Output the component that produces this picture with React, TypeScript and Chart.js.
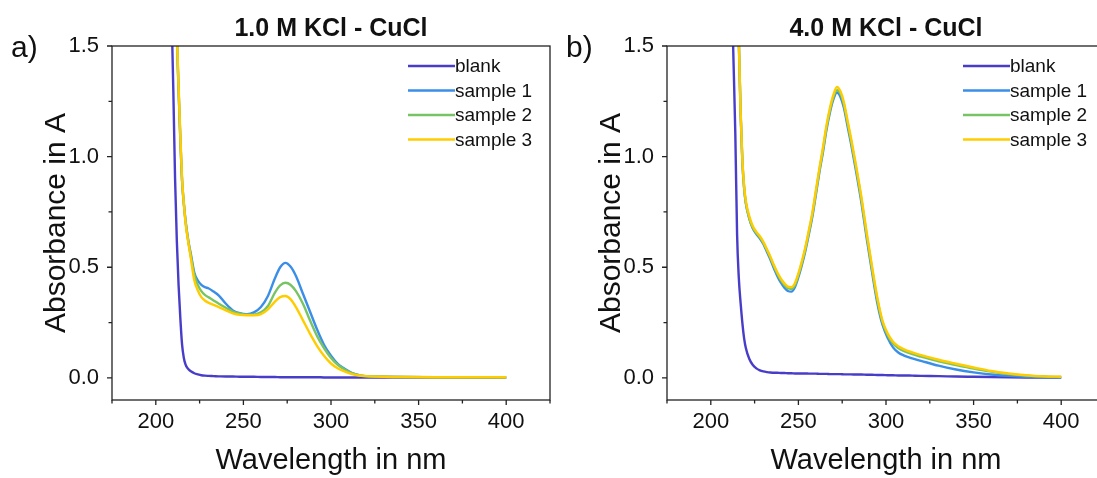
import React, { useEffect, useRef } from "react";
import { Chart, registerables } from "chart.js";

Chart.register(...registerables);

const FONT = "'Liberation Sans', Arial, Helvetica, sans-serif";

// ---------- shared labels / styles ----------
const seriesLabels = ["blank", "sample 1", "sample 2", "sample 3"];
const seriesColors = ["#483dc8", "#3a8ee8", "#78c464", "#ffcc00"];
const xMajorTicks = [200, 250, 300, 350, 400];
const xMinorTicks = [175, 225, 275, 325, 375, 425];
const yMajorTicks = [0, 0.5, 1.0, 1.5];
const yMinorTicks = [0.25, 0.75, 1.25];
const xAxisTitle = "Wavelength in nm";
const yAxisTitle = "Absorbance in A";

// ---------- panel a) 1.0 M KCl ----------
const titleA = "1.0 M KCl - CuCl";
const panelA = "a)";
const wavelengthA = [205, 208, 210, 211, 212, 213, 214, 215, 216, 217, 218, 219, 220, 222, 224, 226, 228, 230, 233, 236, 240, 244, 248, 252, 256, 260, 264, 268, 271, 274, 277, 280, 284, 288, 292, 296, 300, 304, 308, 312, 316, 320, 330, 340, 360, 380, 400];
const blankA = [3.0, 2.0, 1.3, 0.9, 0.62, 0.42, 0.27, 0.15, 0.09, 0.06, 0.045, 0.036, 0.03, 0.021, 0.016, 0.012, 0.01, 0.009, 0.008, 0.007, 0.006, 0.006, 0.005, 0.005, 0.005, 0.004, 0.004, 0.004, 0.003, 0.003, 0.003, 0.003, 0.003, 0.003, 0.003, 0.002, 0.002, 0.002, 0.002, 0.002, 0.002, 0.002, 0.001, 0.001, 0.001, 0.001, 0.001];
const sample1A = [3.6, 2.6, 2.05, 1.78, 1.55, 1.3, 1.08, 0.89, 0.79, 0.71, 0.65, 0.6, 0.56, 0.475, 0.44, 0.42, 0.41, 0.405, 0.39, 0.372, 0.335, 0.305, 0.292, 0.288, 0.296, 0.32, 0.37, 0.45, 0.5, 0.52, 0.502, 0.46, 0.38, 0.3, 0.22, 0.15, 0.1, 0.062, 0.04, 0.022, 0.012, 0.007, 0.005, 0.004, 0.003, 0.002, 0.002];
const sample2A = [3.6, 2.6, 2.05, 1.78, 1.55, 1.3, 1.08, 0.89, 0.785, 0.705, 0.645, 0.595, 0.55, 0.465, 0.42, 0.392, 0.375, 0.365, 0.35, 0.335, 0.317, 0.3, 0.29, 0.285, 0.286, 0.296, 0.325, 0.385, 0.418, 0.43, 0.42, 0.392, 0.335, 0.26, 0.19, 0.135, 0.09, 0.058, 0.037, 0.021, 0.012, 0.008, 0.005, 0.004, 0.003, 0.003, 0.002];
const sample3A = [3.6, 2.6, 2.05, 1.78, 1.56, 1.32, 1.1, 0.9, 0.79, 0.7, 0.64, 0.59, 0.54, 0.44, 0.395, 0.365, 0.35, 0.34, 0.33, 0.32, 0.305, 0.292, 0.285, 0.283, 0.283, 0.288, 0.31, 0.345, 0.365, 0.37, 0.355, 0.32, 0.26, 0.2, 0.145, 0.1, 0.065, 0.042, 0.028, 0.017, 0.011, 0.008, 0.005, 0.004, 0.003, 0.003, 0.003];

// ---------- panel b) 4.0 M KCl ----------
const titleB = "4.0 M KCl - CuCl";
const panelB = "b)";
const wavelengthB = [205, 210, 212, 213, 214, 215, 216, 217, 218, 219, 220, 222, 224, 226, 228, 230, 232, 234, 236, 238, 240, 242, 244, 246, 248, 250, 252, 254, 256, 258, 260, 262, 264, 266, 268, 270, 272, 274, 276, 278, 280, 283, 286, 289, 292, 295, 298, 301, 304, 307, 310, 315, 320, 330, 340, 350, 360, 370, 380, 390, 400];
const blankB = [4.0, 2.6, 1.75, 1.42, 1.1, 0.65, 0.45, 0.34, 0.25, 0.18, 0.135, 0.085, 0.058, 0.043, 0.034, 0.029, 0.026, 0.024, 0.023, 0.023, 0.022, 0.022, 0.021, 0.021, 0.02, 0.02, 0.02, 0.02, 0.019, 0.019, 0.019, 0.018, 0.018, 0.018, 0.017, 0.017, 0.017, 0.017, 0.016, 0.016, 0.016, 0.015, 0.015, 0.014, 0.014, 0.013, 0.013, 0.012, 0.012, 0.011, 0.011, 0.01, 0.009, 0.008, 0.006, 0.005, 0.004, 0.003, 0.002, 0.001, 0.001];
const sample1B = [4.5, 3.3, 2.7, 2.45, 2.2, 1.85, 1.52, 1.2, 0.98, 0.86, 0.79, 0.72, 0.675, 0.65, 0.63, 0.605, 0.57, 0.535, 0.495, 0.46, 0.43, 0.408, 0.393, 0.39, 0.41, 0.455, 0.51, 0.575, 0.65, 0.73, 0.83, 0.93, 1.02, 1.12, 1.2, 1.26, 1.29, 1.27, 1.22, 1.14, 1.06, 0.93, 0.79, 0.63, 0.48, 0.34, 0.24, 0.18, 0.138, 0.115, 0.102, 0.088, 0.077, 0.055, 0.038, 0.025, 0.015, 0.009, 0.005, 0.003, 0.002];
const sample2B = [4.5, 3.3, 2.7, 2.45, 2.2, 1.85, 1.52, 1.2, 0.98, 0.86, 0.79, 0.72, 0.678, 0.655, 0.635, 0.61, 0.577, 0.543, 0.505, 0.47, 0.442, 0.42, 0.405, 0.402, 0.42, 0.465, 0.52, 0.585, 0.66, 0.74, 0.84, 0.94, 1.03, 1.13, 1.21, 1.27, 1.3, 1.285, 1.235, 1.155, 1.075, 0.945, 0.805, 0.645, 0.495, 0.355, 0.252, 0.192, 0.155, 0.135, 0.122, 0.107, 0.096, 0.075, 0.058, 0.042, 0.028, 0.017, 0.01, 0.006, 0.004];
const sample3B = [4.5, 3.3, 2.7, 2.45, 2.2, 1.86, 1.53, 1.21, 0.99, 0.87, 0.8, 0.73, 0.685, 0.66, 0.64, 0.615, 0.582, 0.548, 0.51, 0.476, 0.448, 0.427, 0.412, 0.41, 0.428, 0.472, 0.528, 0.592, 0.668, 0.748, 0.848, 0.948, 1.04, 1.14, 1.22, 1.28, 1.315, 1.295, 1.245, 1.165, 1.085, 0.955, 0.815, 0.655, 0.505, 0.365, 0.258, 0.2, 0.163, 0.143, 0.13, 0.115, 0.103, 0.082, 0.064, 0.047, 0.031, 0.02, 0.012, 0.007, 0.005];

const decorPlugin = {
  id: "decor",
  afterDraw(chart: any, _args: any, opts: any) {
    const ctx = chart.ctx;
    const area = chart.chartArea;
    const axisColor = "#222222";
    ctx.save();
    // frame
    ctx.strokeStyle = axisColor;
    ctx.lineWidth = 1.3;
    ctx.strokeRect(area.left, area.top, area.right - area.left, area.bottom - area.top);
    // tick marks
    const xs = chart.scales.x;
    ctx.beginPath();
    xs.ticks.forEach((t: any) => {
      const px = xs.getPixelForValue(t.value);
      const len = xMajorTicks.includes(t.value) ? 5 : 3.5;
      ctx.moveTo(px, area.bottom);
      ctx.lineTo(px, area.bottom + len);
    });
    const ys = chart.scales.y;
    ys.ticks.forEach((t: any) => {
      const py = ys.getPixelForValue(t.value);
      const len = yMajorTicks.includes(t.value) ? 5 : 3.5;
      ctx.moveTo(area.left, py);
      ctx.lineTo(area.left - len, py);
    });
    ctx.stroke();
    // title
    ctx.fillStyle = "#111";
    ctx.font = `bold 25px ${FONT}`;
    ctx.textAlign = "center";
    ctx.textBaseline = "alphabetic";
    ctx.fillText(opts.title, (area.left + area.right) / 2, 36);
    // panel label
    ctx.font = `30px ${FONT}`;
    ctx.textAlign = "left";
    ctx.fillText(opts.panel, 11, 57);
    // legend
    ctx.font = `19px ${FONT}`;
    ctx.textBaseline = "middle";
    chart.data.datasets.forEach((ds: any, i: number) => {
      const y = 66 + i * 24.5;
      const x0 = area.left + 296;
      ctx.strokeStyle = ds.borderColor;
      ctx.lineWidth = 2.6;
      ctx.beginPath();
      ctx.moveTo(x0, y);
      ctx.lineTo(x0 + 47, y);
      ctx.stroke();
      ctx.fillStyle = "#111";
      ctx.fillText(ds.label, x0 + 47, y + 1);
    });
    ctx.restore();
  },
};

function makeConfig(xs: number[], series: number[][], title: string, panel: string): any {
  return {
    type: "line",
    data: {
      datasets: series.map((ys, i) => ({
        label: seriesLabels[i],
        data: xs.map((x, j) => ({ x, y: ys[j] })),
        borderColor: seriesColors[i],
        backgroundColor: seriesColors[i],
        borderWidth: 2.4,
        pointRadius: 0,
        fill: false,
        cubicInterpolationMode: "monotone",
        order: series.length - i,
      })),
    },
    options: {
      animation: false,
      responsive: false,
      maintainAspectRatio: false,
      events: [],
      layout: { padding: { left: 0, right: 10, top: 46, bottom: 0 } },
      plugins: {
        legend: { display: false },
        tooltip: { enabled: false },
        title: { display: false },
        decor: { title, panel },
      },
      scales: {
        x: {
          type: "linear",
          min: 175,
          max: 425,
          afterBuildTicks: (s: any) => {
            s.ticks = [...xMinorTicks, ...xMajorTicks].sort((a, b) => a - b).map((v) => ({ value: v }));
          },
          afterFit: (s: any) => {
            s.height = 78;
          },
          ticks: {
            autoSkip: false,
            maxRotation: 0,
            padding: 4,
            color: "#111",
            font: { size: 22, family: FONT },
            callback: (v: number) => (xMajorTicks.includes(v) ? String(v) : ""),
          },
          grid: { display: true, drawOnChartArea: false, drawTicks: true, tickLength: 5, color: "rgba(0,0,0,0)" },
          border: { display: false },
          title: {
            display: true,
            text: xAxisTitle,
            color: "#111",
            font: { size: 29, family: FONT },
            padding: { top: 0, bottom: 0 },
          },
        },
        y: {
          type: "linear",
          min: -0.1,
          max: 1.5,
          afterBuildTicks: (s: any) => {
            s.ticks = [...yMajorTicks, ...yMinorTicks].sort((a, b) => a - b).map((v) => ({ value: v }));
          },
          afterFit: (s: any) => {
            s.width = 112;
          },
          ticks: {
            autoSkip: false,
            padding: 8,
            color: "#111",
            font: { size: 22, family: FONT },
            callback: (v: number) => (yMajorTicks.includes(v) ? v.toFixed(1) : ""),
          },
          grid: { display: true, drawOnChartArea: false, drawTicks: true, tickLength: 5, color: "rgba(0,0,0,0)" },
          border: { display: false },
          title: {
            display: true,
            text: yAxisTitle,
            color: "#111",
            font: { size: 30, family: FONT },
            padding: { top: 39, bottom: 0 },
          },
        },
      },
    },
    plugins: [decorPlugin],
  };
}

function Panel(props: { left: number; xs: number[]; series: number[][]; title: string; panel: string }) {
  const ref = useRef<HTMLCanvasElement | null>(null);
  useEffect(() => {
    if (!ref.current) return;
    const chart = new Chart(ref.current, makeConfig(props.xs, props.series, props.title, props.panel));
    return () => chart.destroy();
  }, []);
  return (
    <canvas
      ref={ref}
      width={560}
      height={478}
      style={{ position: "absolute", left: props.left, top: 0, width: 560, height: 478, display: "block" }}
    />
  );
}

export default function App() {
  return (
    <div
      style={{
        position: "absolute",
        left: 0,
        top: 0,
        width: 1097,
        height: 478,
        overflow: "hidden",
        background: "#ffffff",
      }}
    >
      <Panel left={0} xs={wavelengthA} series={[blankA, sample1A, sample2A, sample3A]} title={titleA} panel={panelA} />
      <Panel left={555} xs={wavelengthB} series={[blankB, sample1B, sample2B, sample3B]} title={titleB} panel={panelB} />
    </div>
  );
}
